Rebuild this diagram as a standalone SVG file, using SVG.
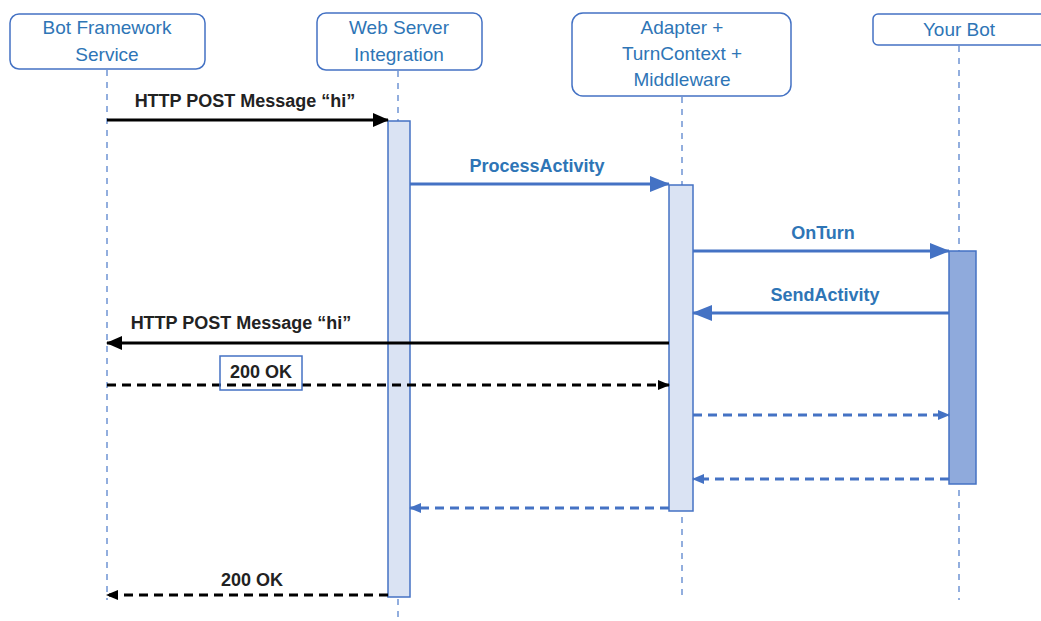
<svg xmlns="http://www.w3.org/2000/svg" width="1041" height="621" viewBox="0 0 1041 621">
<style>
.node{fill:#fff;stroke:#4472c4;stroke-width:1.5}
.nt{font-family:"Liberation Sans",Arial,sans-serif;font-size:19px;fill:#2e75b6;text-anchor:middle}
.life{stroke:#6f94d4;stroke-width:1.5;stroke-dasharray:6,6;fill:none}
.act{fill:#dae3f3;stroke:#4472c4;stroke-width:1.5}
.act2{fill:#8faadc;stroke:#4472c4;stroke-width:1.5}
.lb{font-family:"Liberation Sans",Arial,sans-serif;font-size:18px;font-weight:bold;fill:#222;text-anchor:middle}
.lbb{font-family:"Liberation Sans",Arial,sans-serif;font-size:18px;font-weight:bold;fill:#2e75b6;text-anchor:middle}
.k{stroke:#000;stroke-width:3;fill:none}
.kd{stroke:#000;stroke-width:3;fill:none;stroke-dasharray:9,6}
.b{stroke:#4472c4;stroke-width:3;fill:none}
.bd{stroke:#4472c4;stroke-width:3;fill:none;stroke-dasharray:9,6}
</style>
<defs>
<marker id="ak" markerWidth="16" markerHeight="14" refX="15" refY="7" orient="auto" markerUnits="userSpaceOnUse"><path d="M0,0 L16,7 L0,14 Z" fill="#000"/></marker>
<marker id="ab" markerWidth="20" markerHeight="16" refX="19" refY="8" orient="auto" markerUnits="userSpaceOnUse"><path d="M0,0 L20,8 L0,16 Z" fill="#4472c4"/></marker>
<marker id="aks" markerWidth="12" markerHeight="10" refX="11" refY="5" orient="auto" markerUnits="userSpaceOnUse"><path d="M0,0 L12,5 L0,10 Z" fill="#000"/></marker>
<marker id="abs" markerWidth="12" markerHeight="10" refX="11" refY="5" orient="auto" markerUnits="userSpaceOnUse"><path d="M0,0 L12,5 L0,10 Z" fill="#4472c4"/></marker>
</defs>

<g id="lifelines">
<line class="life" x1="107" y1="70" x2="107" y2="600"/>
<line class="life" x1="398" y1="71" x2="398" y2="621"/>
<line class="life" x1="682" y1="97" x2="682" y2="600"/>
<line class="life" x1="959" y1="46" x2="959" y2="600"/>
</g>

<g id="bot-framework-service">
<rect class="node" x="10" y="14" width="195" height="55" rx="9"/>
<text class="nt" x="107" y="34">Bot Framework</text>
<text class="nt" x="107" y="61">Service</text>
</g>
<g id="web-server-integration">
<rect class="node" x="317" y="13" width="165" height="57" rx="9"/>
<text class="nt" x="399" y="34">Web Server</text>
<text class="nt" x="399" y="61">Integration</text>
</g>
<g id="adapter">
<rect class="node" x="572" y="13" width="219" height="83" rx="11"/>
<text class="nt" x="682" y="34">Adapter +</text>
<text class="nt" x="682" y="60">TurnContext +</text>
<text class="nt" x="682" y="86">Middleware</text>
</g>
<g id="your-bot">
<rect class="node" x="873" y="14" width="180" height="31" rx="5"/>
<text class="nt" x="959" y="36">Your Bot</text>
</g>

<g id="activations">
<rect class="act" x="388" y="121" width="22" height="476"/>
<rect class="act" x="669" y="185" width="24" height="326"/>
<rect class="act2" x="949" y="251" width="27" height="233"/>
</g>

<g id="connectors">
<line class="k" x1="107" y1="120" x2="388" y2="120" marker-end="url(#ak)"/>
<text class="lb" x="245" y="107">HTTP POST Message “hi”</text>

<line class="b" x1="410" y1="184" x2="669" y2="184" marker-end="url(#ab)"/>
<text class="lbb" x="537" y="172">ProcessActivity</text>

<line class="b" x1="693" y1="251" x2="949" y2="251" marker-end="url(#ab)"/>
<text class="lbb" x="823" y="239">OnTurn</text>

<line class="b" x1="949" y1="313" x2="693" y2="313" marker-end="url(#ab)"/>
<text class="lbb" x="825" y="301">SendActivity</text>

<line class="k" x1="669" y1="343" x2="107" y2="343" marker-end="url(#ak)"/>
<text class="lb" x="241" y="329">HTTP POST Message “hi”</text>

<line class="kd" x1="107" y1="385" x2="669" y2="385" marker-end="url(#aks)"/>
<rect x="220" y="356" width="82" height="34" fill="none" stroke="#4472c4" stroke-width="1.5"/>
<text class="lb" x="261" y="378">200 OK</text>

<line class="bd" x1="693" y1="415" x2="949" y2="415" marker-end="url(#abs)"/>
<line class="bd" x1="949" y1="479" x2="693" y2="479" marker-end="url(#abs)"/>
<line class="bd" x1="669" y1="508" x2="410" y2="508" marker-end="url(#abs)"/>

<line class="kd" x1="388" y1="595" x2="107" y2="595" marker-end="url(#aks)"/>
<text class="lb" x="252" y="586">200 OK</text>
</g>
</svg>
